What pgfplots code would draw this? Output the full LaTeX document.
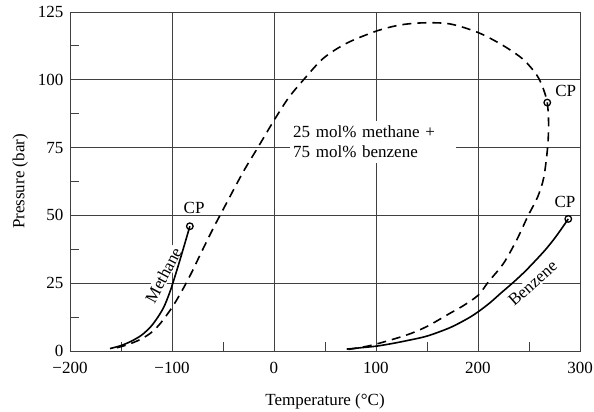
\documentclass[border=0pt]{standalone}
\usepackage{fontspec}
\setmainfont{Liberation Serif}
\usepackage{pgfplots}
\pgfplotsset{compat=1.18}
\begin{document}
\begin{tikzpicture}[font=\fontsize{17}{20}\selectfont]
\begin{axis}[
  scale only axis, width=510pt, height=339pt,
  xmin=-200, xmax=300, ymin=0, ymax=125,
  xtick={-200,-100,0,100,200,300},
  xticklabels={−200,−100,0,100,200,300},
  ytick={0,25,50,75,100,125},
  yticklabels={0,25,50,75,100,125},
  minor xtick={-150,-50,50,150,250},
  minor ytick={12.5,37.5,62.5,87.5,112.5},
  tick pos=left, tick align=inside,
  major tick length=0pt, minor tick length=9pt,
  grid=major,
  major grid style={black!75, line width=0.8pt},
  axis line style={black!75, line width=0.8pt},
  minor tick style={black!75, line width=0.8pt},
  tick label style={font=\fontsize{17}{20}\selectfont},
  label style={font=\fontsize{17}{20}\selectfont},
  xticklabel shift=8pt, yticklabel shift=3pt,
  xlabel shift=13pt, ylabel shift=3pt,
  xlabel={Temperature (°C)}, ylabel={Pressure (bar)},
  clip=false,
]
\coordinate (bl) at (rel axis cs:0,0);
\coordinate (tr) at (rel axis cs:1,1);
% labels (white boxes hide the grid)
\node[fill=white, anchor=west, align=left, inner xsep=3pt, inner ysep=5pt, text width=160pt,
      font=\fontsize{17}{20}\selectfont] at (axis cs:15.7,77.2)
  {25 mol\% methane +\\75 mol\% benzene};
\node[fill=white, inner sep=1pt, rotate=62] at (axis cs:-108.5,28) {Methane};
\node[fill=white, inner sep=1pt, rotate=41.5] at (axis cs:253.7,25) {Benzene};
\node at (axis cs:-78.3,52.6) {CP};
\node at (axis cs:285.3,54.8) {CP};
\node at (axis cs:286,96) {CP};
% methane
\addplot[black, line width=1.6pt, smooth, tension=0.5] coordinates {
 (-160.8,0.9) (-150,2.0) (-140,3.6) (-130,5.8) (-121,8.9) (-114,12.4)
 (-108,16.2) (-103,20.8) (-99.7,24.4) (-94,31.3) (-88,38.9) (-82.5,46)};
% benzene
\addplot[black, line width=1.6pt, smooth, tension=0.5] coordinates {
 (71.3,0.7) (85,1.2) (100.7,1.8) (115,2.7) (130,3.8) (150,5.5) (172.5,8.6)
 (190,12.0) (200.3,14.5) (211.8,17.8) (222,21.2) (234.6,25.3) (246,29.3)
 (257.5,33.8) (266,37.3) (273.8,40.9) (281,44.6) (288.5,48.7)};
% mixture envelope
\addplot[black, line width=1.6pt, dash pattern=on 9pt off 6pt, smooth, tension=0.5] coordinates {
 (-154,1.2) (-143,2.4) (-131.4,4.2) (-121,6.6) (-111.8,10.0) (-99.7,16.2)
 (-88.9,23.1) (-80,29.5) (-72.5,35.4) (-59.5,45.3) (-48,53.5) (-30.1,66.1)
 (-15.4,75.3) (-0.7,84.6) (14,93.2) (28.7,99.9) (48.3,107.9) (71.3,113.5)
 (100.7,118) (123.5,120.2) (146.4,121) (172.5,120.6) (200.3,117.4)
 (224.8,112.6) (244.4,107.5) (257.5,101.8) (263.5,97.2) (267.9,91.6)
 (269.2,84) (268.3,75.3) (264.5,64) (258.5,56.8) (249,49.8) (238,41)
 (225,32.3) (210,25.4) (200.3,20.6) (186,16.8) (172.5,13.9) (149.7,9.0)
 (130.1,5.9) (100.7,2.6) (85,1.3) (73,0.6)};
% critical points
\addplot[only marks, mark=o, mark size=3.3pt, mark options={line width=1.3pt, fill=white, solid}] coordinates {
 (-82.5,46) (288.5,48.7) (267.9,91.6)};
\end{axis}
\pgfresetboundingbox
\path ([shift={(-70pt,-61pt)}]bl) rectangle ([shift={(14pt,12pt)}]tr);
\end{tikzpicture}
\end{document}
